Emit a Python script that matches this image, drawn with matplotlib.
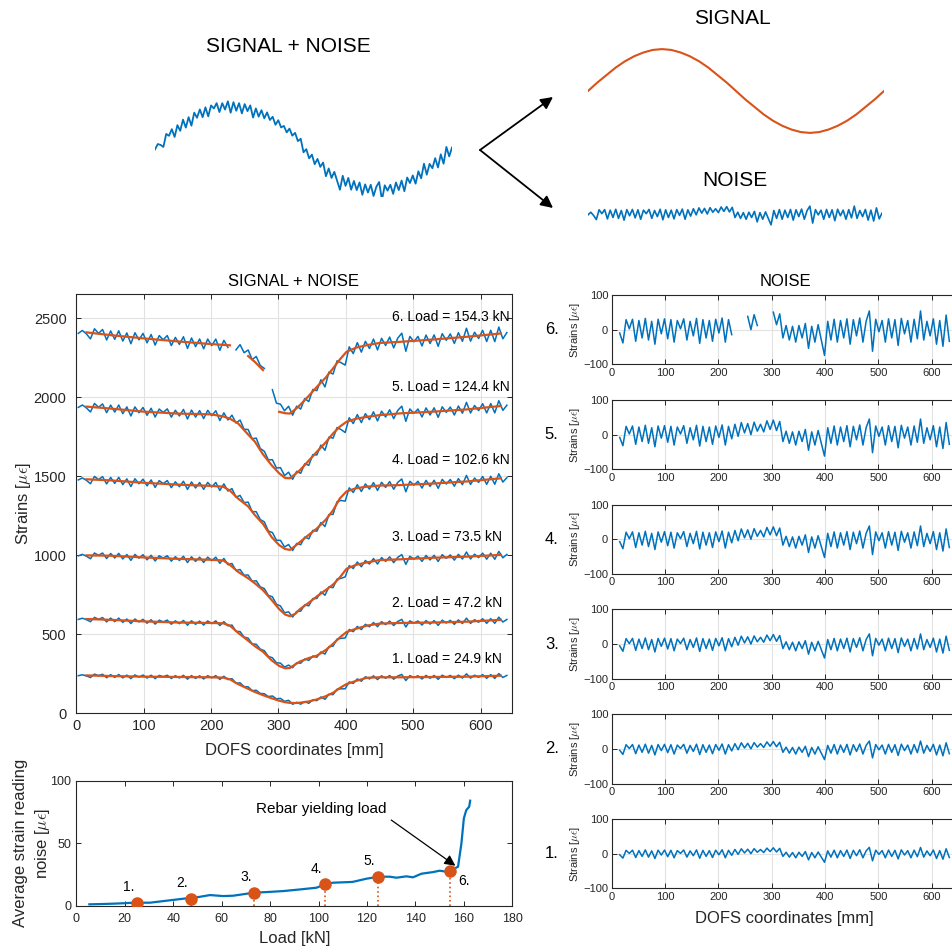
import numpy as np
import matplotlib
matplotlib.use("Agg")
import matplotlib.pyplot as plt

plt.rcParams["font.family"] = ["Liberation Sans", "DejaVu Sans"]
plt.rcParams["mathtext.fontset"] = "cm"

BLUE = "#0072BD"
ORANGE = "#D95319"
DARK = "#262626"
GRID = "#e2e2e2"

# --- data ---
LOADS_KN = [24.9, 47.2, 73.5, 102.6, 124.4, 154.3]

# smoothed strain profiles (orange), microstrain, at these DOFS coordinates [mm]
KNOT_X = [15, 50, 100, 150, 200, 218, 228, 240, 255, 265, 277, 290, 301, 310, 317,
          325, 332, 345, 357, 370, 381, 391, 401, 415, 431, 450, 480, 530, 579, 630]
SIGNAL_1 = [240, 236, 232, 230, 228, 226, 215, 185, 155, 135, 115, 95, 80, 70, 66,
            65, 67, 75, 88, 108, 130, 160, 185, 205, 225, 228, 228, 230, 232, 238]
SIGNAL_2 = [597, 592, 582, 575, 572, 570, 555, 510, 460, 425, 390, 335, 300, 285, 287,
            310, 328, 350, 365, 400, 440, 480, 515, 535, 555, 568, 572, 575, 580, 592]
SIGNAL_3 = [1000, 998, 987, 978, 972, 968, 940, 896, 855, 823, 780, 717, 660, 625, 615,
            630, 660, 700, 740, 780, 815, 860, 915, 940, 955, 970, 975, 985, 992, 1003]
SIGNAL_4 = [1482, 1475, 1460, 1448, 1440, 1435, 1410, 1360, 1310, 1255, 1200, 1115, 1065, 1040, 1035,
            1060, 1085, 1130, 1170, 1225, 1285, 1360, 1405, 1425, 1435, 1442, 1445, 1455, 1468, 1488]
SIGNAL_5 = [1942, 1930, 1910, 1898, 1893, 1880, 1865, 1836, 1765, 1720, 1640, 1570, 1520, 1490, 1488,
            1515, 1540, 1600, 1656, 1715, 1772, 1815, 1846, 1865, 1877, 1888, 1899, 1910, 1924, 1946]
SIGNAL_6 = [2412, 2395, 2374, 2355, 2338, 2333, 2330, 2300, 2262, 2225, 2173, 2010, 1909, 1900, 1898,
            1925, 1952, 2010, 2067, 2125, 2184, 2240, 2289, 2315, 2331, 2345, 2352, 2367, 2384, 2405]
SIGNALS = [SIGNAL_1, SIGNAL_2, SIGNAL_3, SIGNAL_4, SIGNAL_5, SIGNAL_6]

# reading noise pattern (as in panel 5), sampled every 6 mm from 3 mm
NOISE_X = np.arange(3, 640, 6)
NOISE_PATTERN = [
    -5, 10, -8, -32, 24, 2, 25, -28, 22, -20,
    27, -25, 20, -35, 25, -10, 26, -22, 24, -30,
    22, 2, 26, -25, 20, -15, 27, -33, 24, -20,
    22, -28, 25, -8, 28, -30, 24, -12, 30, -5,
    35, 5, 32, 0, 36, 10, 30, 8, 40, 15,
    42, 12, 38, -20, 10, -25, 8, -30, 10, -20,
    15, -45, 8, -30, 12, -25, -62, 20, -25, 25,
    -30, 22, -20, 26, -35, 24, -15, 28, -30, 20,
    45, -52, 25, -5, 22, -30, 26, -20, 24, -38,
    27, -10, 22, -30, 25, -22, 45, -25, 20, -15,
    26, -35, 22, -40, 35, -28, 5,
]
NOISE_SCALE = [0.4, 0.5, 0.65, 0.85, 1.0, 1.2]

# missing stretches (only the last load step)
NOISE_GAPS = [[], [], [], [], [], [(228, 255), (276, 302)]]
ORANGE_GAPS = [[], [], [], [], [], [(228, 255), (280, 300)]]
BLUE_GAPS = [[], [], [], [], [], [(230, 234), (282, 289)]]

# average noise vs load
NOISE_LOAD = [5.4, 10, 15, 20, 23.5, 30.4, 37.3, 44.2, 49.7, 55.2,
              60.7, 64.8, 73.3, 78.5, 85.4, 92.3, 99.2, 102.9, 106, 114,
              119.8, 124.9, 129.4, 132.2, 136.3, 139, 142.5, 147.3, 150, 152.8,
              154.9, 156.3, 157.6, 159, 160, 161, 162.2, 162.6]
AVG_NOISE = [1.1, 1.3, 1.6, 2.0, 2.4, 2.4, 4.0, 5.6, 6.7, 8.5,
             7.7, 8.0, 10.4, 10.9, 11.7, 13.0, 14.4, 17.3, 18.4, 19.0,
             21.6, 23.2, 23.2, 22.4, 23.5, 22.7, 25.6, 26.9, 28.0, 27.2,
             27.5, 29.9, 31.2, 49.9, 69.9, 76.5, 79.2, 84.0]
MARK_NOISE = [2.5, 5.6, 10.5, 17.3, 23.2, 27.5]

# schematic sine (one period)
SCHEM_SIGNAL = [0, 0.2, 0.38, 0.56, 0.71, 0.83, 0.92, 0.98, 1.0, 0.98, 0.92,
                0.83, 0.71, 0.56, 0.38, 0.2, 0, -0.2, -0.38, -0.56, -0.71, -0.83,
                -0.92, -0.98, -1.0, -0.98, -0.92, -0.83, -0.71, -0.56, -0.38, -0.2, 0]
SCHEM_NOISE_GAIN = 0.0045

# --- layout ---
W, H = 952, 950
fig = plt.figure(figsize=(W / 100, H / 100), dpi=100)


def px_axes(left, top, right, bottom):
    return fig.add_axes([left / W, 1 - bottom / H, (right - left) / W, (bottom - top) / H])


def fig_text(x, y, s, **kw):
    fig.text(x / W, 1 - y / H, s, ha="center", va="center", **kw)


def style(ax, size, xpad, ypad):
    ax.tick_params(direction="in", top=True, right=True, length=3.5, width=0.7,
                   colors=DARK, labelsize=size)
    ax.tick_params(axis="x", pad=xpad)
    ax.tick_params(axis="y", pad=ypad)
    for sp in ax.spines.values():
        sp.set_color(DARK)
        sp.set_linewidth(0.8)


def masked(x, y, gaps):
    y = np.array(y, dtype=float)
    x = np.asarray(x, dtype=float)
    for a, b in gaps:
        y[(x > a) & (x < b)] = np.nan
    return y


pattern = np.asarray(NOISE_PATTERN, dtype=float)

# --- top schematic ---
t_sig = np.linspace(0, 1, len(SCHEM_SIGNAL))
t_noise = np.linspace(0, 1, len(pattern))

ax_sn = px_axes(155, 100, 452, 197)
ax_sn.plot(t_noise, np.interp(t_noise, t_sig, SCHEM_SIGNAL) + SCHEM_NOISE_GAIN * pattern,
           color=BLUE, lw=1.3)
ax_sn.set_xlim(0, 1)
ax_sn.set_ylim(-1.15, 1.15)
ax_sn.axis("off")

ax_s = px_axes(588, 47, 884, 135)
ax_s.plot(t_sig, SCHEM_SIGNAL, color=ORANGE, lw=1.5)
ax_s.set_xlim(0, 1)
ax_s.set_ylim(-1.05, 1.05)
ax_s.axis("off")

ax_n = px_axes(588, 200, 882, 228)
ax_n.plot(t_noise, pattern, color=BLUE, lw=1.2)
ax_n.set_xlim(0, 1)
ax_n.set_ylim(-80, 80)
ax_n.axis("off")

fig_text(288, 47, "SIGNAL + NOISE", fontsize=15)
fig_text(732, 19, "SIGNAL", fontsize=15)
fig_text(735, 180, "NOISE", fontsize=15)

ax_top = fig.add_axes([0, 0, 1, 1])
ax_top.axis("off")
for end in [(553, 97), (553, 208)]:
    ax_top.annotate("", xy=(end[0] / W, 1 - end[1] / H), xytext=(480 / W, 1 - 150 / H),
                    xycoords="figure fraction",
                    arrowprops=dict(arrowstyle="-|>", color="black", lw=1.3,
                                    mutation_scale=18, shrinkA=0, shrinkB=0))

# --- main panel: signal + noise ---
ax = px_axes(76.3, 294, 512.3, 713.3)
style(ax, 10.5, 4, 7)
ax.grid(True, color=GRID, lw=0.8)
ax.set_axisbelow(True)
label_x = [632, 632, 632, 643, 643, 643]
label_y = [342, 696, 1118, 1603, 2067, 2510]
for k in range(6):
    sig = np.asarray(SIGNALS[k], dtype=float)
    raw = np.interp(NOISE_X, KNOT_X, sig) + NOISE_SCALE[k] * pattern
    ax.plot(NOISE_X, masked(NOISE_X, raw, BLUE_GAPS[k]), color=BLUE, lw=1.1,
            solid_joinstyle="round")
    ax.plot(KNOT_X, masked(KNOT_X, sig, ORANGE_GAPS[k]), color=ORANGE, lw=1.6,
            solid_joinstyle="round")
    ax.text(label_x[k], label_y[k], f"{k + 1}. Load = {LOADS_KN[k]} kN",
            ha="right", va="center", fontsize=10, color="black")
ax.set_xlim(0, 647)
ax.set_ylim(0, 2655)
ax.set_xticks(range(0, 601, 100))
ax.set_yticks(range(0, 2501, 500))
ax.set_xlabel("DOFS coordinates [mm]", fontsize=12, color=DARK)
ax.xaxis.set_label_coords(0.5, -0.072)
ax.set_ylabel("Strains [$\\mu\\epsilon$]", fontsize=12, color=DARK)
ax.yaxis.set_label_coords(-0.1, 0.5)
fig_text(294, 282, "SIGNAL + NOISE", fontsize=12)

# --- bottom panel: average noise vs load ---
axb = px_axes(76.3, 780.7, 512.3, 905.7)
style(axb, 9, 5, 3.5)
axb.plot(NOISE_LOAD, AVG_NOISE, color=BLUE, lw=1.6, zorder=3)
mark_offsets = [(-6, 11), (-6, 11), (-6, 11), (-6, 11), (-6, 11), (10, -7)]
for k in range(6):
    axb.plot([LOADS_KN[k], LOADS_KN[k]], [0, MARK_NOISE[k]], ls=":", color=ORANGE, lw=1.2, zorder=2)
    axb.annotate(f"{k + 1}.", (LOADS_KN[k], MARK_NOISE[k]), xytext=mark_offsets[k],
                 textcoords="offset points", ha="center", va="center", fontsize=10)
axb.plot(LOADS_KN, MARK_NOISE, "o", color=ORANGE, ms=8, zorder=4)
axb.annotate("Rebar yielding load", xy=(156.5, 32), xytext=(101, 77),
             ha="center", va="center", fontsize=11,
             arrowprops=dict(arrowstyle="-|>", color="black", lw=0.9, mutation_scale=16,
                             relpos=(1, 0), shrinkA=2, shrinkB=0))
axb.set_xlim(0, 180)
axb.set_ylim(0, 100)
axb.set_xticks(range(0, 181, 20))
axb.set_yticks([0, 50, 100])
axb.set_xlabel("Load [kN]", fontsize=12, color=DARK)
axb.xaxis.set_label_coords(0.5, -0.2)
axb.set_ylabel("Average strain reading\nnoise [$\\mu\\epsilon$]", fontsize=12, color=DARK,
               linespacing=1.35)
axb.yaxis.set_label_coords(-0.056, 0.5)

# --- right panels: noise per load step ---
panel_tops = [819, 714.2, 609.4, 504.6, 400, 295]
for k in range(6):
    top = panel_tops[k]
    axn = px_axes(611.7, top, 956.8, top + 69.3)
    style(axn, 8, 2.5, 2.5)
    axn.grid(True, color=GRID, lw=0.8)
    axn.set_axisbelow(True)
    gaps = NOISE_GAPS[k] + [(-1, 14), (634, 700)]
    axn.plot(NOISE_X, masked(NOISE_X, NOISE_SCALE[k] * pattern, gaps), color=BLUE, lw=1.1,
             solid_joinstyle="round")
    axn.set_xlim(0, 647)
    axn.set_ylim(-100, 100)
    axn.set_xticks(range(0, 601, 100))
    axn.set_yticks([-100, 0, 100])
    axn.set_ylabel("Strains [$\\mu\\epsilon$]", fontsize=8, color=DARK)
    axn.yaxis.set_label_coords(-0.086, 0.5)
    fig_text(551.7, top + 34.7, f"{k + 1}.", fontsize=12)
    if k == 0:
        axn.set_xlabel("DOFS coordinates [mm]", fontsize=12, color=DARK)
        axn.xaxis.set_label_coords(0.5, -0.33)
fig_text(785, 282, "NOISE", fontsize=12)

fig.savefig("out.png", dpi=100)
